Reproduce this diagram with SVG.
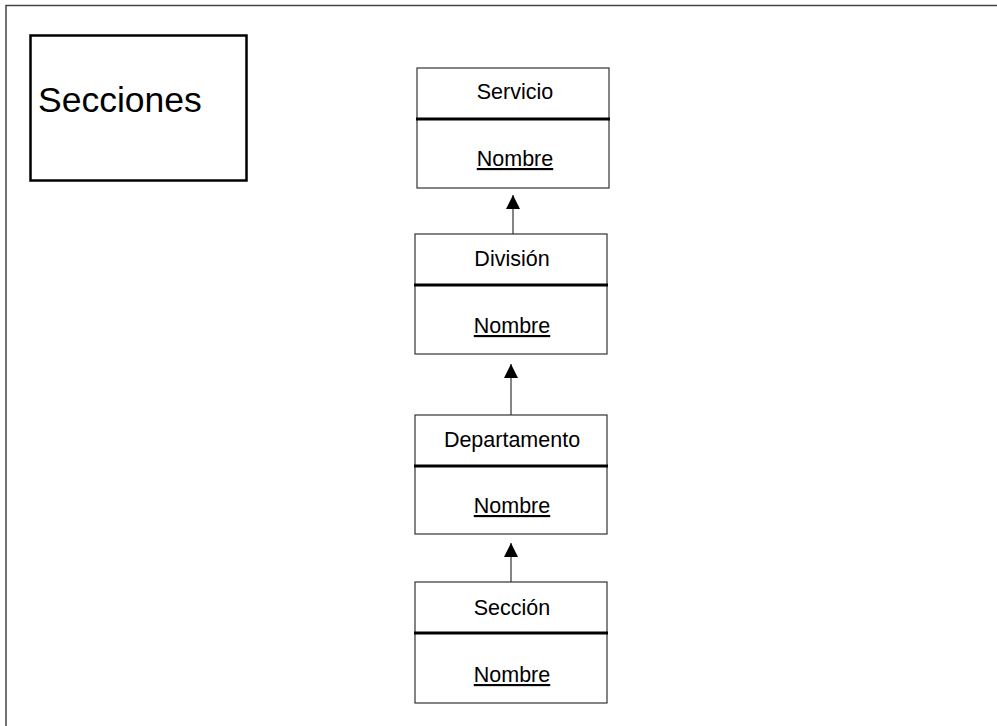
<svg xmlns="http://www.w3.org/2000/svg" width="997" height="726" viewBox="0 0 997 726">
  <style>
    text { font-family: "Liberation Sans", Arial, sans-serif; fill: #000; }
    .ent { fill: #fff; stroke: #333; stroke-width: 1.2; }
    .sep { stroke: #000; stroke-width: 3; }
    .name { font-size: 21.5px; text-anchor: middle; }
    .key { font-size: 21.5px; text-anchor: middle; text-decoration: underline; }
    .conn { stroke: #333; stroke-width: 1.2; fill: none; }
  </style>
  <defs>
    <marker id="tri" viewBox="0 0 14 14" refX="14" refY="7" markerWidth="14" markerHeight="14" markerUnits="userSpaceOnUse" orient="auto">
      <path d="M0,0 L14,7 L0,14 Z" fill="#000"/>
    </marker>
  </defs>
  <rect width="997" height="726" fill="#fff"/>

  <!-- frame -->
  <path d="M6,726 V5.5 H997" fill="none" stroke="#444" stroke-width="1.5"/>

  <!-- title box -->
  <g id="title">
    <rect x="30.5" y="35.5" width="216" height="145" fill="#fff" stroke="#000" stroke-width="2.5"/>
    <text x="38" y="112" font-size="35.5px">Secciones</text>
  </g>

  <g id="servicio">
    <rect class="ent" x="417" y="68" width="192" height="120"/>
    <line class="sep" x1="416" y1="119" x2="610" y2="119"/>
    <text class="name" x="515" y="99">Servicio</text>
    <text class="key" x="515" y="166">Nombre</text>
  </g>

  <g id="division">
    <rect class="ent" x="415" y="234" width="192" height="120"/>
    <line class="sep" x1="414" y1="285" x2="608" y2="285"/>
    <text class="name" x="512" y="266">División</text>
    <text class="key" x="512" y="333">Nombre</text>
  </g>

  <g id="departamento">
    <rect class="ent" x="415" y="415" width="192" height="119"/>
    <line class="sep" x1="414" y1="466" x2="608" y2="466"/>
    <text class="name" x="512" y="447">Departamento</text>
    <text class="key" x="512" y="513">Nombre</text>
  </g>

  <g id="seccion">
    <rect class="ent" x="415" y="582" width="192" height="121"/>
    <line class="sep" x1="414" y1="633" x2="608" y2="633"/>
    <text class="name" x="512" y="615">Sección</text>
    <text class="key" x="512" y="682">Nombre</text>
  </g>

  <g id="connectors">
    <line class="conn" x1="513" y1="234" x2="513" y2="195" marker-end="url(#tri)"/>
    <line class="conn" x1="511" y1="415" x2="511" y2="364" marker-end="url(#tri)"/>
    <line class="conn" x1="511" y1="582" x2="511" y2="543" marker-end="url(#tri)"/>
  </g>
</svg>
